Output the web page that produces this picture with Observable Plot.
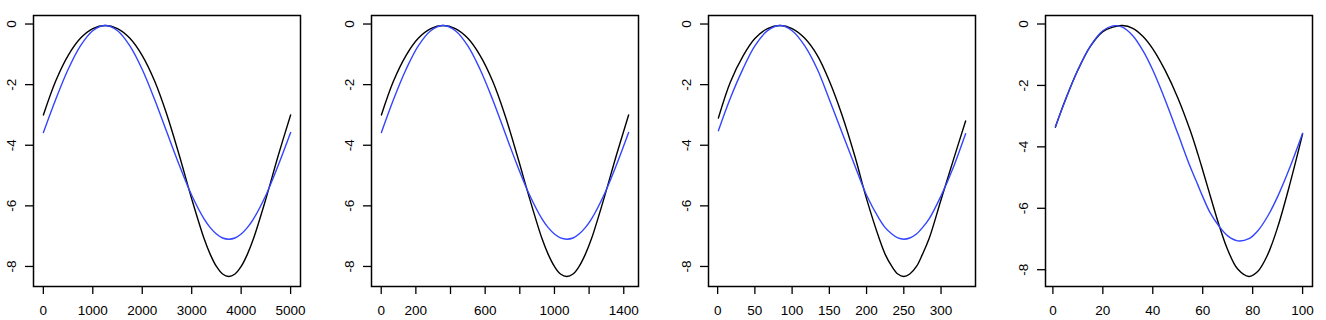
<!DOCTYPE html>
<html><head><meta charset="utf-8">
<script src="https://cdn.jsdelivr.net/npm/d3@7"></script>
<script src="https://cdn.jsdelivr.net/npm/@observablehq/plot@0.6"></script>
<style>
body{margin:0;background:#fff;overflow:hidden;}
#chart{position:relative;width:1326px;height:320px;}
#chart svg{position:absolute;top:0;}
</style></head><body><div id="chart"></div>
<script>
// Panel 1
const p1X     = [1, 250, 500, 750, 1000, 1250, 1500, 1750, 2000, 2250, 2500, 2750, 3000, 3250, 3375, 3500, 3625, 3750, 3875, 4000, 4125, 4250, 4500, 4750, 5000];
const p1Black = [-3.00, -1.88, -1.04, -0.47, -0.15, -0.05, -0.15, -0.47, -1.04, -1.88, -3.00, -4.34, -5.77, -7.08, -7.60, -8.00, -8.25, -8.33, -8.25, -8.00, -7.60, -7.08, -5.77, -4.34, -3.00];
const p1Blue  = [-3.58, -2.49, -1.50, -0.72, -0.22, -0.05, -0.22, -0.72, -1.50, -2.49, -3.58, -4.66, -5.65, -6.43, -6.72, -6.93, -7.06, -7.10, -7.06, -6.93, -6.72, -6.43, -5.65, -4.66, -3.58];
const p1Ticks = [0, 1000, 2000, 3000, 4000, 5000];
const p1Labels = [0, 1000, 2000, 3000, 4000, 5000];
// Panel 2
const p2X     = [1, 71, 143, 214, 286, 357, 428, 500, 571, 643, 714, 785, 857, 928, 964, 1000, 1035, 1071, 1107, 1142, 1178, 1214, 1285, 1357, 1428];
const p2Black = [-3.00, -1.88, -1.04, -0.47, -0.15, -0.05, -0.15, -0.47, -1.04, -1.88, -3.00, -4.34, -5.77, -7.08, -7.60, -8.00, -8.25, -8.33, -8.25, -8.00, -7.60, -7.08, -5.77, -4.34, -3.00];
const p2Blue  = [-3.58, -2.49, -1.50, -0.72, -0.22, -0.05, -0.22, -0.72, -1.50, -2.49, -3.58, -4.66, -5.65, -6.43, -6.72, -6.93, -7.06, -7.10, -7.06, -6.93, -6.72, -6.43, -5.65, -4.66, -3.58];
const p2Ticks = [0, 200, 400, 600, 800, 1000, 1200, 1400];
const p2Labels = [0, 200, 600, 1000, 1400];
// Panel 3
const p3X     = [1, 17, 34, 50, 67, 84, 100, 117, 134, 150, 167, 184, 200, 217, 225, 234, 242, 250, 258, 267, 275, 284, 300, 317, 333];
const p3Black = [-3.10, -1.92, -1.06, -0.48, -0.15, -0.05, -0.15, -0.47, -1.04, -1.88, -3.00, -4.34, -5.77, -7.08, -7.60, -8.00, -8.25, -8.33, -8.25, -8.00, -7.60, -7.08, -5.80, -4.45, -3.20];
const p3Blue  = [-3.52, -2.45, -1.48, -0.72, -0.22, -0.05, -0.22, -0.72, -1.50, -2.49, -3.58, -4.66, -5.65, -6.43, -6.72, -6.93, -7.06, -7.10, -7.06, -6.93, -6.72, -6.43, -5.67, -4.70, -3.62];
const p3Ticks = [0, 50, 100, 150, 200, 250, 300];
const p3Labels = [0, 50, 100, 150, 200, 250, 300];
// Panel 4
const p4X     = [1, 5, 10, 15, 20, 24, 27.8, 32, 36, 40, 45, 50, 55, 58, 60, 63, 66.7, 70, 74, 78.5, 82, 86, 90, 95, 100];
const p4Black = [-3.36, -2.47, -1.50, -0.73, -0.25, -0.10, -0.05, -0.14, -0.40, -0.81, -1.52, -2.40, -3.47, -4.22, -4.76, -5.59, -6.59, -7.35, -7.98, -8.22, -8.06, -7.51, -6.62, -5.18, -3.58];
const p4Blue  = [-3.34, -2.48, -1.50, -0.72, -0.22, -0.06, -0.10, -0.38, -0.86, -1.50, -2.48, -3.56, -4.65, -5.23, -5.62, -6.15, -6.60, -6.90, -7.06, -6.99, -6.74, -6.26, -5.62, -4.65, -3.56];
const p4Ticks = [0, 20, 40, 60, 80, 100];
const p4Labels = [0, 20, 40, 60, 80, 100];

const yTicks = [0, -2, -4, -6, -8];
const panelLeft = [0, 337.7, 675.3, 1012];
const blueColor = "#3344ff";

const panels = [
  [p1X, p1Black, p1Blue, p1Ticks, p1Labels],
  [p2X, p2Black, p2Blue, p2Ticks, p2Labels],
  [p3X, p3Black, p3Blue, p3Ticks, p3Labels],
  [p4X, p4Black, p4Blue, p4Ticks, p4Labels]
];

const chart = document.getElementById("chart");
panels.forEach(([xs, black, blue, xTicks, xLabels], k) => {
  const rows = xs.map((x, i) => ({x, black: black[i], blue: blue[i]}));
  const xe = d3.extent(xs);
  const ye = d3.extent(black.concat(blue));
  const xp = (xe[1] - xe[0]) * 0.04, yp = (ye[1] - ye[0]) * 0.04;
  const svg = Plot.plot({
    width: 314, height: 320,
    marginLeft: 33, marginRight: 14, marginTop: 15, marginBottom: 34,
    x: {domain: [xe[0] - xp, xe[1] + xp]},
    y: {domain: [ye[0] - yp, ye[1] + yp]},
    style: {fontFamily: "'Liberation Sans', Arial, sans-serif", fontSize: "13.5px", background: "transparent", color: "black"},
    marks: [
      Plot.axisX({ticks: xTicks, tickSize: 8, tickPadding: 11, strokeWidth: 1.3, label: null,
        tickFormat: d => xLabels.includes(d) ? String(d) : "", fill: "black"}),
      Plot.axisY({ticks: yTicks, tickSize: 8, tickPadding: 10, tickRotate: -90, strokeWidth: 1.3, label: null,
        textAnchor: "middle", lineAnchor: "bottom", tickFormat: d => String(d), fill: "black"}),
      Plot.line(rows, {x: "x", y: "black", stroke: "black", strokeWidth: 1.4, curve: "catmull-rom"}),
      Plot.line(rows, {x: "x", y: "blue", stroke: blueColor, strokeWidth: 1.4, curve: "catmull-rom"}),
      Plot.frame({stroke: "black", strokeWidth: 1.5})
    ]
  });
  svg.style.left = panelLeft[k] + "px";
  chart.appendChild(svg);
});
</script>
</body></html>
